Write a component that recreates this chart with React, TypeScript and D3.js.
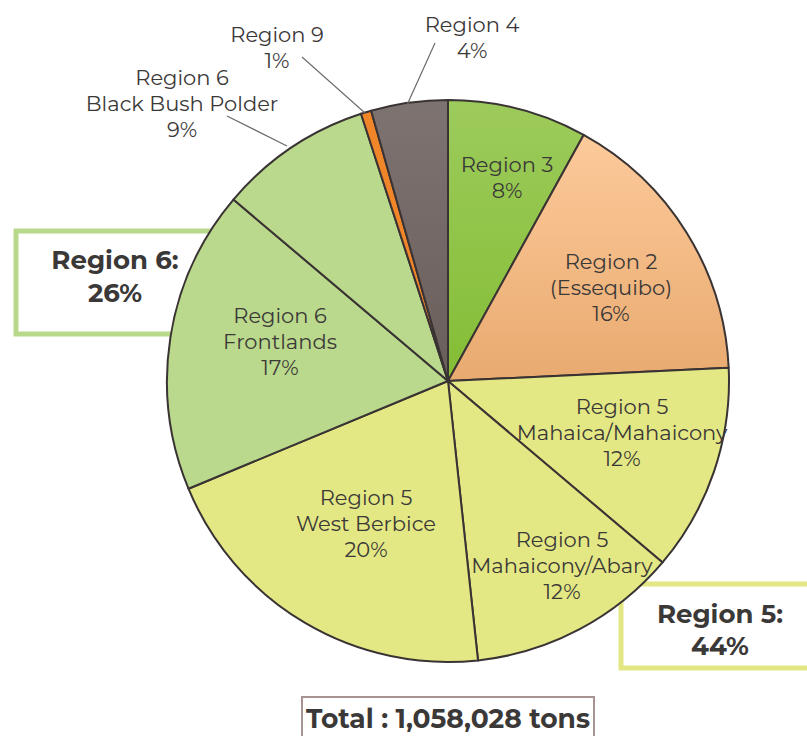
import React from "react";
import * as d3 from "d3";

const categories = [
  "Region 3",
  "Region 2 (Essequibo)",
  "Region 5 Mahaica/Mahaicony",
  "Region 5 Mahaicony/Abary",
  "Region 5 West Berbice",
  "Region 6 Frontlands",
  "Region 6 Black Bush Polder",
  "Region 9",
  "Region 4",
];
const values = [8.0, 16.2, 11.9, 12.1, 20.4, 17.4, 8.8, 0.6, 4.4];
const labelLines = [
  ["Region 3", "8%"],
  ["Region 2", "(Essequibo)", "16%"],
  ["Region 5", "Mahaica/Mahaicony", "12%"],
  ["Region 5", "Mahaicony/Abary", "12%"],
  ["Region 5", "West Berbice", "20%"],
  ["Region 6", "Frontlands", "17%"],
  ["Region 6", "Black Bush Polder", "9%"],
  ["Region 9", "1%"],
  ["Region 4", "4%"],
];
const fills = [
  "url(#gR3)",
  "url(#gR2)",
  "#e3e884",
  "#e3e884",
  "#e3e884",
  "#bad98c",
  "#bad98c",
  "#f0852a",
  "url(#gR4)",
];
const insideOffsets: (number[] | null)[] = [
  [59, -203],
  [163, -93],
  [174, 52],
  [114, 185],
  [-82, 143],
  [-168, -39],
  null,
  null,
  null,
];
const outsideLabels: { [k: number]: { tx: number; ty: number; line: number[] } } = {
  6: { tx: -266, ty: -277, line: [-221, -265, -161, -235] },
  7: { tx: -171, ty: -333, line: [-146, -324, -83, -268] },
  8: { tx: 24, ty: -343, line: [-13, -338, -41, -276] },
};
const boxR6 = ["Region 6:", "26%"];
const boxR5 = ["Region 5:", "44%"];
const totalText = "Total : 1,058,028 tons";

export default function App() {
  const cx = 448;
  const cy = 381;
  const r = 281;
  const pie = d3.pie<number>().sort(null).value((d) => d)(values);
  const arc = d3.arc<d3.PieArcDatum<number>>().innerRadius(0).outerRadius(r);
  const font = "Montserrat, 'Noto Sans', 'Open Sans', sans-serif";
  const txt = "#3b3838";
  const lh = 26;
  const fs = 21;
  return (
    <svg width={807} height={736} style={{ position: "absolute", left: 0, top: 0 }}>
      <defs>
        <linearGradient id="gR3" x1="0" y1="0" x2="0" y2="1">
          <stop offset="0" stopColor="#9dcb5c" />
          <stop offset="1" stopColor="#84bd35" />
        </linearGradient>
        <linearGradient id="gR2" x1="0" y1="0" x2="0" y2="1">
          <stop offset="0" stopColor="#fdca9b" />
          <stop offset="1" stopColor="#e8aa6f" />
        </linearGradient>
        <linearGradient id="gR4" x1="0" y1="0" x2="0" y2="1">
          <stop offset="0" stopColor="#7d7371" />
          <stop offset="1" stopColor="#6a5e5a" />
        </linearGradient>
      </defs>
      <rect x={0} y={0} width={807} height={736} fill="#ffffff" />
      <rect x={16} y={231} width={220} height={103} fill="#ffffff" stroke="#b9d98a" strokeWidth={5} />
      <rect x={621} y={584} width={200} height={84} fill="#ffffff" stroke="#e2e784" strokeWidth={5} />
      <g transform={`translate(${cx},${cy})`}>
        {pie.map((p, i) => (
          <path key={categories[i]} d={arc(p) || ""} fill={fills[i]} stroke="#3a3333" strokeWidth={2} strokeLinejoin="round" />
        ))}
        {pie.map((p, i) => {
          const off = insideOffsets[i];
          if (!off) return null;
          const lines = labelLines[i];
          const y0 = off[1] - ((lines.length - 1) * lh) / 2;
          return (
            <text key={"l" + i} x={off[0]} textAnchor="middle" fontFamily={font} fontSize={fs} fill={txt}>
              {lines.map((t, j) => (
                <tspan key={j} x={off[0]} y={y0 + j * lh} dy="0.35em">
                  {t}
                </tspan>
              ))}
            </text>
          );
        })}
        {Object.keys(outsideLabels).map((k) => {
          const i = Number(k);
          const o = outsideLabels[i];
          const lines = labelLines[i];
          const y0 = o.ty - ((lines.length - 1) * lh) / 2;
          return (
            <g key={"o" + i}>
              <line x1={o.line[0]} y1={o.line[1]} x2={o.line[2]} y2={o.line[3]} stroke="#6e6a6a" strokeWidth={1.2} />
              <text x={o.tx} textAnchor="middle" fontFamily={font} fontSize={fs} fill={txt}>
                {lines.map((t, j) => (
                  <tspan key={j} x={o.tx} y={y0 + j * lh} dy="0.35em">
                    {t}
                  </tspan>
                ))}
              </text>
            </g>
          );
        })}
      </g>
      <text x={115} textAnchor="middle" fontFamily={font} fontSize={26} fontWeight="bold" fill={txt}>
        <tspan x={115} y={260} dy="0.35em">{boxR6[0]}</tspan>
        <tspan x={115} y={293} dy="0.35em">{boxR6[1]}</tspan>
      </text>
      <text x={720} textAnchor="middle" fontFamily={font} fontSize={26} fontWeight="bold" fill={txt}>
        <tspan x={720} y={614} dy="0.35em">{boxR5[0]}</tspan>
        <tspan x={720} y={646} dy="0.35em">{boxR5[1]}</tspan>
      </text>
      <rect x={302} y={697} width={292} height={50} fill="#ffffff" stroke="#a89292" strokeWidth={2} />
      <text x={448} y={719} dy="0.35em" textAnchor="middle" fontFamily={font} fontSize={26.5} fontWeight="bold" fill={txt}>
        {totalText}
      </text>
    </svg>
  );
}
